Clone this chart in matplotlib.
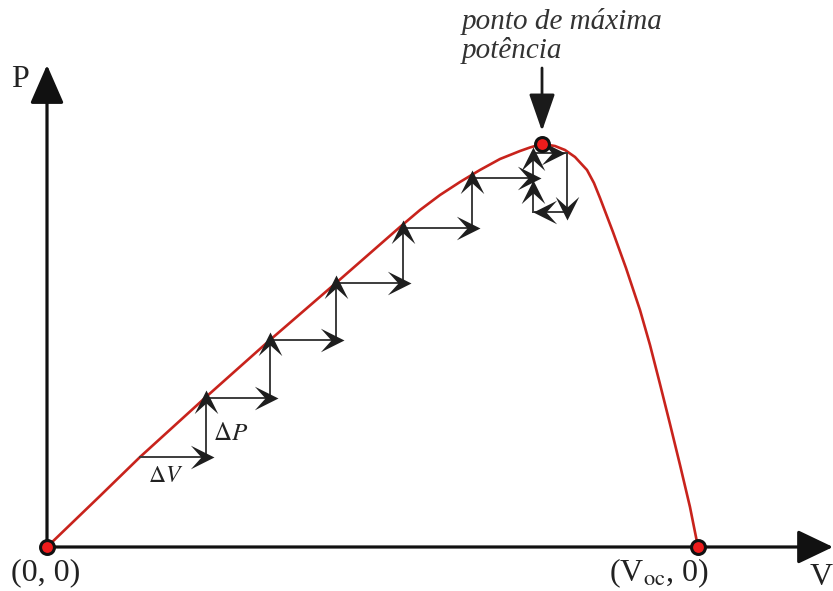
import numpy as np
import matplotlib.pyplot as plt
from matplotlib.patches import FancyArrowPatch
from matplotlib.path import Path

plt.rcParams['font.family'] = ['Liberation Serif', 'DejaVu Serif']
plt.rcParams['mathtext.fontset'] = 'stix'

# curva P-V normalizada (Voc = 1, Pmax = 1)
v_curve = [0.0, 0.0814, 0.1429, 0.2442, 0.3425, 0.4439, 0.5422, 0.5730, 0.6037,
           0.6344, 0.6651, 0.6959, 0.7266, 0.7419, 0.7604, 0.7803, 0.7957, 0.8111,
           0.8295, 0.8402, 0.8495, 0.8694, 0.8894, 0.9109, 0.9263, 0.9416, 0.9570,
           0.9724, 0.9877, 1.0]
p_curve = [0.0, 0.1266, 0.2233, 0.3722, 0.5136, 0.6551, 0.7940, 0.8362, 0.8734,
           0.9057, 0.9355, 0.9628, 0.9826, 0.9913, 1.0, 0.9950, 0.9851, 0.9677,
           0.9355, 0.9032, 0.8660, 0.7816, 0.6923, 0.5881, 0.5012, 0.4045, 0.3052,
           0.2035, 0.0993, 0.0]

v_mpp, p_mpp = 0.7604, 1.0
v_oc = 1.0

# trajetoria do ponto de operacao (perturba e observa)
v_steps = [0.1429, 0.2442, 0.2442, 0.3425, 0.3425, 0.4439, 0.4439, 0.5469, 0.5469,
           0.6528, 0.6528, 0.7465, 0.7465, 0.7988, 0.7988, 0.7465, 0.7465]
p_steps = [0.2233, 0.2233, 0.3697, 0.3697, 0.5136, 0.5136, 0.6551, 0.6551, 0.7916,
           0.7916, 0.9156, 0.9156, 0.9777, 0.9777, 0.8313, 0.8313, 0.9057]

fig = plt.figure(figsize=(8.33, 5.91), dpi=100)
ax = fig.add_axes([0, 0, 1, 1])
ax.set_xlim(-0.0722, 1.2074)
ax.set_ylim(-0.1092, 1.3573)
ax.axis('off')

# eixos
ax.add_patch(FancyArrowPatch((0, 0), (0, 1.196), arrowstyle='-|>,head_length=24,head_width=10.5',
                             mutation_scale=1, lw=2.3, color='#111111', shrinkA=0, shrinkB=0, zorder=2))
ax.add_patch(FancyArrowPatch((0, 0), (1.2074, 0), arrowstyle='-|>,head_length=22,head_width=10.5',
                             mutation_scale=1, lw=2.3, color='#111111', shrinkA=0, shrinkB=0, zorder=2))

ax.plot(v_curve, p_curve, color='#c8231c', lw=1.9, zorder=3, solid_joinstyle='round')

# ponta de seta concava
base = np.array([[0, 0], [-1.0, 0.5], [-0.55, 0], [-1.0, -0.5], [0, 0]])
codes = [Path.MOVETO, Path.LINETO, Path.LINETO, Path.LINETO, Path.CLOSEPOLY]

def head_marker(ang):
    c, s = np.cos(ang), np.sin(ang)
    rot = base @ np.array([[c, s], [-s, c]])
    return Path(rot, codes)

gap = [8] * (len(v_steps) - 1)
gap[11] = 6
gap[12] = -2
gap[14] = 0
gap[15] = 2

for i in range(len(v_steps) - 1):
    a = np.array([v_steps[i], p_steps[i]])
    b = np.array([v_steps[i + 1], p_steps[i + 1]])
    da = ax.transData.transform(a)
    db = ax.transData.transform(b)
    u = (db - da) / np.linalg.norm(db - da)
    tip = ax.transData.inverted().transform(db + gap[i] * u)
    ax.plot([a[0], b[0]], [a[1], b[1]], color='#3c3c3c', lw=1.4, zorder=4)
    ax.plot(tip[0], tip[1], marker=head_marker(np.arctan2(u[1], u[0])), ms=34,
            color='#1e1e1e', mec='none', zorder=5)

# pontos
ax.plot([0, v_mpp, v_oc], [0, p_mpp, 0], 'o', ms=10, mfc='#ee1c1c', mec='#111111',
        mew=2.2, zorder=6, clip_on=False)

# textos
ax.text(-0.0415, 1.159, 'P', fontsize=23, ha='center', va='center', color='#222222')
ax.text(1.19, -0.076, 'V', fontsize=23, ha='center', va='center', color='#222222')
ax.annotate('(0, 0)', xy=(0, 0), xytext=(-1, -8), textcoords='offset points',
            ha='center', va='top', fontsize=23, color='#222222')
ax.annotate(r'(V$_{\rm oc}$, 0)', xy=(v_oc, 0), xytext=(-28, -7), textcoords='offset points',
            ha='center', va='top', fontsize=23, color='#222222')
ax.text(0.1550, 0.1750, r'$\Delta V$', fontsize=17, ha='left', va='center', color='#222222')
ax.text(0.2550, 0.2800, r'$\Delta P$', fontsize=18, ha='left', va='center', color='#222222')

ax.text(0.6375, 1.3375, 'ponto de m\u00e1xima\npot\u00eancia', fontsize=21, style='italic',
        family='Liberation Serif', ha='left', va='top', color='#333333', linespacing=1.12)
ax.add_patch(FancyArrowPatch((v_mpp, 1.1886), (v_mpp, 1.032), arrowstyle='-|>,head_length=23,head_width=8',
                             mutation_scale=1, lw=2.0, color='#1a1a1a', shrinkA=0, shrinkB=0, zorder=6))

fig.savefig('out.png', dpi=100)
